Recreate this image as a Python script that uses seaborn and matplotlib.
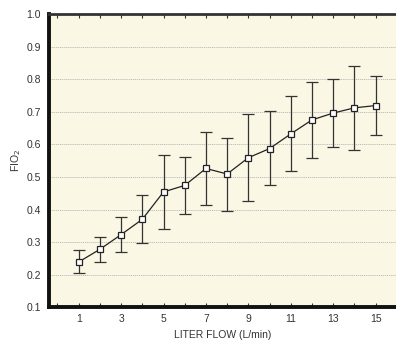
import matplotlib
matplotlib.use("Agg")
import matplotlib.pyplot as plt
import seaborn as sns
import pandas as pd
import numpy as np

flow = [1, 2, 3, 4, 5, 6, 7, 8, 9, 10, 11, 12, 13, 14, 15]
fio2_mean = [0.239, 0.278, 0.323, 0.370, 0.454, 0.474, 0.526, 0.509, 0.559, 0.587, 0.632, 0.675, 0.696, 0.712, 0.719]
err_upper = [0.275, 0.316, 0.377, 0.445, 0.566, 0.562, 0.639, 0.618, 0.692, 0.701, 0.748, 0.791, 0.800, 0.839, 0.810]
err_lower = [0.204, 0.239, 0.269, 0.296, 0.341, 0.385, 0.414, 0.395, 0.425, 0.475, 0.517, 0.559, 0.592, 0.583, 0.629]
x_ticklabels = ["1", "3", "5", "7", "9", "11", "13", "15"]
y_ticks = [0.1, 0.2, 0.3, 0.4, 0.5, 0.6, 0.7, 0.8, 0.9, 1.0]

df = pd.DataFrame({"flow": flow, "fio2": fio2_mean, "hi": err_upper, "lo": err_lower})

sns.set_theme(style="white")
plt.rcParams["font.family"] = ["Liberation Sans", "DejaVu Sans"]

fig = plt.figure(figsize=(3.96, 3.41), dpi=100)
ax = fig.add_axes([49 / 396, 1 - 307.3 / 341, 1 - 49 / 396 + 0.002, (307.3 - 14) / 341])
ax.set_facecolor("#FBF7E5")

ax.errorbar(df["flow"], df["fio2"],
            yerr=[df["fio2"] - df["lo"], df["hi"] - df["fio2"]],
            fmt="none", ecolor="#333333", elinewidth=0.9, capsize=4.3, capthick=0.9, zorder=3)
sns.lineplot(data=df, x="flow", y="fio2", ax=ax, color="#222222", linewidth=0.9,
             marker="s", markersize=3.8, markerfacecolor="white",
             markeredgecolor="#222222", markeredgewidth=0.9, zorder=4)

ax.set_xlim(-0.4, 16.0)
ax.set_ylim(0.1, 1.0)
ax.set_xticks(range(1, 16, 2))
ax.set_xticklabels(x_ticklabels)
ax.set_xticks(range(0, 17), minor=True)
ax.set_yticks(y_ticks)
ax.set_yticklabels([f"{v:.1f}" for v in y_ticks])

for v in y_ticks[1:-1]:
    ax.axhline(v, color="#b5b5b5", linewidth=0.6, linestyle=(0, (1.5, 1)), zorder=1)

ax.tick_params(axis="x", which="both", direction="in", length=3, width=0.8,
               color="#333333", top=True, bottom=True, labelsize=7.5, labelcolor="#333333", pad=5)
ax.tick_params(axis="y", which="both", direction="in", length=0, labelsize=7.5,
               labelcolor="#333333", pad=6)

ax.spines["right"].set_visible(False)
ax.spines["left"].set_linewidth(2.8)
ax.spines["left"].set_color("#111111")
ax.spines["bottom"].set_linewidth(2.8)
ax.spines["bottom"].set_color("#111111")
ax.spines["top"].set_linewidth(2.0)
ax.spines["top"].set_color("#333333")

ax.set_xlabel("LITER FLOW (L/min)", fontsize=7.5, color="#333333", labelpad=4)
ax.set_ylabel("FIO$_2$", fontsize=7.5, color="#333333", labelpad=2)

fig.savefig("out.png", dpi=100)
